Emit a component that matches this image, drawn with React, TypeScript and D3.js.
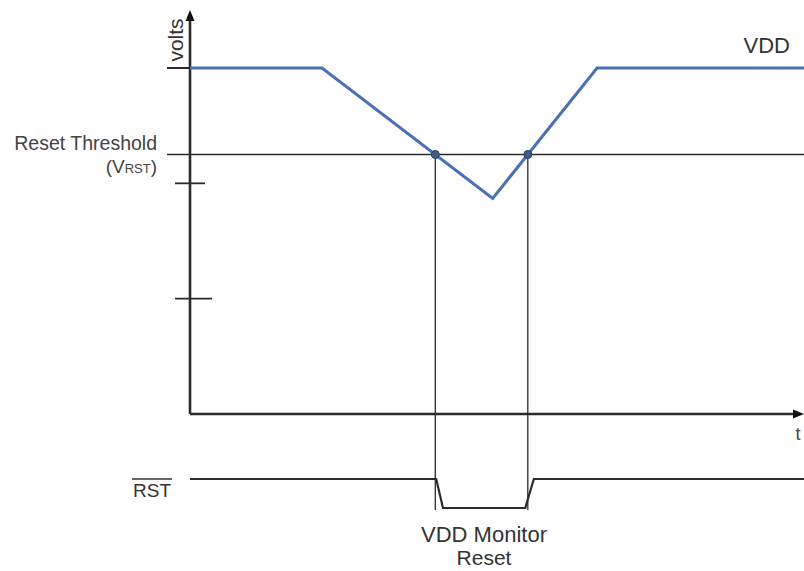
import React from "react";
import * as d3 from "d3";

const W = 804, H = 571;
// VDD waveform (time units, volts)
const vddTime = [0, 21.5, 49.3, 66.3, 100];
const vddVolts = [3.0, 3.0, 1.87, 3.0, 3.0];
const thresholdVolts = 2.25;
const yTicks = [1, 2, 3];
// RST waveform (time units, logic level)
const rstTime = [0, 40.1, 41.2, 54.6, 56.0, 100];
const rstLevel = [1, 1, 0, 0, 1, 1];

export default function App() {
  const x = d3.scaleLinear().domain([0, 100]).range([190, 804]);
  const y = d3.scaleLinear().domain([0, 3]).range([414, 68]);
  const yr = d3.scaleLinear().domain([0, 1]).range([508, 479]);

  const vdd = vddTime.map((t, i) => [t, vddVolts[i]] as [number, number]);
  const line = d3.line<[number, number]>().x(d => x(d[0])).y(d => y(d[1]));
  const rst = rstTime.map((t, i) => [t, rstLevel[i]] as [number, number]);
  const rline = d3.line<[number, number]>().x(d => x(d[0])).y(d => yr(d[1]));

  // crossings of VDD with threshold
  const crossings: number[] = [];
  for (let i = 0; i < vdd.length - 1; i++) {
    const [t0, v0] = vdd[i], [t1, v1] = vdd[i + 1];
    if ((v0 - thresholdVolts) * (v1 - thresholdVolts) < 0) {
      crossings.push(t0 + ((thresholdVolts - v0) / (v1 - v0)) * (t1 - t0));
    }
  }
  const font = "Arial, 'Liberation Sans', sans-serif";
  const ink = "#2b2b2b";
  const tickLen: Record<number, [number, number]> = { 1: [175, 212], 2: [175, 205], 3: [167, 205] };
  const ax = x(0), ay = y(0);

  return (
    <svg width={W} height={H} style={{ position: "absolute", left: 0, top: 0, background: "#fff" }} fontFamily={font}>
      {/* threshold line */}
      <line x1={167} x2={W} y1={y(thresholdVolts)} y2={y(thresholdVolts)} stroke={ink} strokeWidth={1.3} />
      {/* axes */}
      <line x1={ax} x2={ax} y1={ay} y2={18} stroke={ink} strokeWidth={2.6} />
      <path d={`M${ax},10 L${ax - 4.5},21 L${ax + 4.5},21 Z`} fill="#111" />
      <line x1={ax} x2={795} y1={ay} y2={ay} stroke={ink} strokeWidth={2.6} />
      <path d={`M804,${ay} L793,${ay - 4.5} L793,${ay + 4.5} Z`} fill="#111" />
      {yTicks.map(v => (
        <line key={v} x1={tickLen[v][0]} x2={tickLen[v][1]} y1={y(v)} y2={y(v)} stroke={ink} strokeWidth={1.8} />
      ))}
      {/* vertical guides */}
      {crossings.map((c, i) => (
        <line key={i} x1={x(c)} x2={x(c)} y1={y(thresholdVolts)} y2={yr(0) + 2} stroke={ink} strokeWidth={1.3} />
      ))}
      {/* VDD */}
      <path d={line(vdd) || ""} fill="none" stroke="#4a70b5" strokeWidth={3} />
      {crossings.map((c, i) => (
        <circle key={i} cx={x(c)} cy={y(thresholdVolts)} r={4} fill="#3f5a86" stroke="#2a3d5e" strokeWidth={1} />
      ))}
      {/* RST */}
      <path d={rline(rst) || ""} fill="none" stroke={ink} strokeWidth={2.2} />
      {/* labels */}
      <text x={183} y={40} transform="rotate(-90,183,40)" textAnchor="middle" fontSize={21} fill="#333">volts</text>
      <text x={790} y={53} textAnchor="end" fontSize={22} fill="#333">VDD</text>
      <text x={157} y={150} textAnchor="end" fontSize={19.5} fill="#444">Reset Threshold</text>
      <text x={157} y={173} textAnchor="end" fontSize={19} fill="#444">(V<tspan fontSize={13}>RST</tspan>)</text>
      <text x={798} y={440} textAnchor="middle" fontSize={18} fill="#444">t</text>
      <text x={152} y={497} textAnchor="middle" fontSize={19} fill="#333">RST</text>
      <line x1={132} x2={172} y1={479} y2={479} stroke="#333" strokeWidth={1.4} />
      <text x={484} y={542} textAnchor="middle" fontSize={22} fill="#333">VDD Monitor</text>
      <text x={484} y={565} textAnchor="middle" fontSize={21} fill="#333">Reset</text>
    </svg>
  );
}
